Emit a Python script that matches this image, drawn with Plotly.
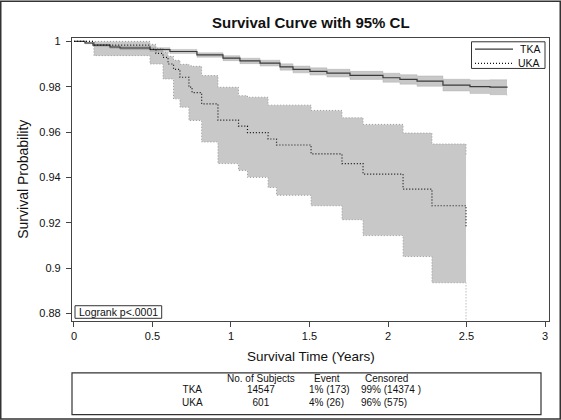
import plotly.graph_objects as go

# ---------------- data ----------------
tka_time = [0, 0.070, 0.121, 0.229, 0.293, 0.484, 0.611, 0.783, 0.949, 1.057, 1.185, 1.312,
            1.395, 1.503, 1.611, 1.758, 1.968, 2.076, 2.185, 2.350, 2.522, 2.650, 2.758]
tka_surv = [1.0, 0.99930, 0.99833, 0.99753, 0.99709, 0.99643, 0.99555, 0.99401, 0.99260, 0.99137,
            0.99040, 0.98872, 0.98762, 0.98674, 0.98599, 0.98498, 0.98396, 0.98322, 0.98247,
            0.98070, 0.98000, 0.97978, 0.97956]
tka_upper = [1.0, 0.99970, 0.99883, 0.99813, 0.99779, 0.99723, 0.99645, 0.99501, 0.99370, 0.99257,
             0.99170, 0.99012, 0.98912, 0.98834, 0.98769, 0.98678, 0.98596, 0.98532, 0.98477,
             0.98330, 0.98300, 0.98308, 0.98316]
tka_lower = [1.0, 0.99890, 0.99783, 0.99693, 0.99639, 0.99563, 0.99465, 0.99301, 0.99150, 0.99017,
             0.98910, 0.98732, 0.98612, 0.98514, 0.98429, 0.98318, 0.98196, 0.98112, 0.98017,
             0.97810, 0.97700, 0.97648, 0.97596]

uka_time = [0, 0.127, 0.484, 0.522, 0.567, 0.599, 0.634, 0.675, 0.732, 0.752, 0.813, 0.917,
            1.048, 1.105, 1.236, 1.290, 1.510, 1.707, 1.841, 2.096, 2.280, 2.497]
uka_surv = [1.0, 0.99833, 0.99648, 0.99473, 0.99297, 0.99002, 0.98769, 0.98418, 0.97978, 0.97736,
            0.97244, 0.96527, 0.96264, 0.95978, 0.95692, 0.95429, 0.95033, 0.94607, 0.94141,
            0.93481, 0.92747, 0.91793]
uka_upper = [1.0, 1.0, 0.99868, 0.99692, 0.99516, 0.99341, 0.99165, 0.98989, 0.98923, 0.98901,
             0.98492, 0.97978, 0.97604, 0.97538, 0.97187, 0.97187, 0.96954, 0.96629, 0.96338,
             0.95956, 0.95473, 0.94950]
uka_lower = [1.0, 0.99371, 0.99002, 0.99002, 0.98343, 0.98343, 0.97464, 0.97099, 0.96514, 0.96514,
             0.95560, 0.94607, 0.94308, 0.94000, 0.93552, 0.93209, 0.92747, 0.92132, 0.91429,
             0.90505, 0.89349, 0.85000]

x_tickvals = [0, 0.5, 1, 1.5, 2, 2.5, 3]
x_ticktext = ["0", "0.5", "1", "1.5", "2", "2.5", "3"]
y_tickvals = [0.88, 0.90, 0.92, 0.94, 0.96, 0.98, 1.0]
y_ticktext = ["0.88", "0.9", "0.92", "0.94", "0.96", "0.98", "1"]

groups = ["TKA", "UKA"]
n_subjects = [14547, 601]
event_text = ["1% (173)", "4% (26)"]
censored_text = ["99% (14374 )", "96% (575)"]
logrank_text = "Logrank p&lt;.0001"

# ---------------- figure ----------------
FONT = "Liberation Sans, Arial, sans-serif"
band_fill = "rgba(110,110,110,0.38)"
W, H = 561, 420
L, R, T, B = 72, 12, 37.5, 99
pw, ph = W - L - R, H - T - B

def px2x(px):
    return (px - L) / pw

def py2y(py):
    return (H - B - py) / ph

fig = go.Figure()

# UKA band
fig.add_trace(go.Scatter(x=uka_time, y=uka_lower, mode="lines", line_shape="hv",
                         line=dict(color="#9a9a9a", width=1, dash="1px,2px"),
                         showlegend=False, hoverinfo="skip"))
fig.add_trace(go.Scatter(x=uka_time, y=uka_upper, mode="lines", line_shape="hv",
                         line=dict(color="#9a9a9a", width=1, dash="1px,2px"),
                         fill="tonexty", fillcolor=band_fill,
                         showlegend=False, hoverinfo="skip"))
# TKA band
fig.add_trace(go.Scatter(x=tka_time, y=tka_lower, mode="lines", line_shape="hv",
                         line=dict(color="rgba(150,150,150,0.6)", width=0.5),
                         showlegend=False, hoverinfo="skip"))
fig.add_trace(go.Scatter(x=tka_time, y=tka_upper, mode="lines", line_shape="hv",
                         line=dict(color="rgba(150,150,150,0.6)", width=0.5),
                         fill="tonexty", fillcolor=band_fill,
                         showlegend=False, hoverinfo="skip"))
# estimates
fig.add_trace(go.Scatter(x=tka_time, y=tka_surv, mode="lines", line_shape="hv",
                         line=dict(color="#3a3a3a", width=1.2), name="TKA", showlegend=False))
fig.add_trace(go.Scatter(x=uka_time, y=uka_surv, mode="lines", line_shape="hv",
                         line=dict(color="#111111", width=1.2, dash="1px,2px"), name="UKA",
                         showlegend=False))

axis_color = "#444444"
fig.update_xaxes(range=[-0.0127, 3.0255],
                 tickvals=x_tickvals, ticktext=x_ticktext,
                 showline=True, mirror=True, linecolor=axis_color, linewidth=1.2,
                 ticks="outside", ticklen=5, tickcolor=axis_color, tickwidth=1,
                 showgrid=False, zeroline=False,
                 tickfont=dict(family=FONT, size=11, color="#111"))
fig.update_yaxes(range=[0.87661, 1.0015],
                 tickvals=y_tickvals, ticktext=y_ticktext,
                 showline=True, mirror=True, linecolor=axis_color, linewidth=1.2,
                 ticks="outside", ticklen=5, tickcolor=axis_color, tickwidth=1,
                 showgrid=False, zeroline=False, ticklabelstandoff=3,
                 tickfont=dict(family=FONT, size=11, color="#111"))

shapes = []
annotations = []

# outer frame
shapes.append(dict(type="rect", xref="paper", yref="paper",
                   x0=px2x(0.75), x1=px2x(560.25), y0=py2y(419.25), y1=py2y(0.75),
                   line=dict(color="#333", width=1.5)))

# legend (manual)
shapes.append(dict(type="rect", xref="paper", yref="paper",
                   x0=px2x(471.5), x1=px2x(545), y0=py2y(68), y1=py2y(41.3),
                   line=dict(color="#333", width=1), fillcolor="white"))
shapes.append(dict(type="line", xref="paper", yref="paper",
                   x0=px2x(475), x1=px2x(513), y0=py2y(48.7), y1=py2y(48.7),
                   line=dict(color="#3a3a3a", width=1.2)))
shapes.append(dict(type="line", xref="paper", yref="paper",
                   x0=px2x(475), x1=px2x(513), y0=py2y(63), y1=py2y(63),
                   line=dict(color="#111", width=1.2, dash="1px,2px")))
for name, py in zip(groups, [48.7, 63]):
    annotations.append(dict(text=name, xref="paper", yref="paper", x=px2x(542), y=py2y(py),
                            xanchor="right", yanchor="middle", showarrow=False,
                            font=dict(family=FONT, size=10.5, color="#111")))

# logrank box
shapes.append(dict(type="rect", xref="paper", yref="paper",
                   x0=px2x(75), x1=px2x(161.7), y0=py2y(318.3), y1=py2y(305.7),
                   line=dict(color="#333", width=1), fillcolor="white"))
annotations.append(dict(text=logrank_text, xref="paper", yref="paper",
                        x=px2x(118.3), y=py2y(312), xanchor="center", yanchor="middle",
                        showarrow=False, font=dict(family=FONT, size=10.5, color="#111")))

# title & axis titles
annotations.append(dict(text="<b>Survival Curve with 95% CL</b>", xref="paper", yref="paper",
                        x=px2x(310.5), y=py2y(21.5), xanchor="center", yanchor="middle",
                        showarrow=False, font=dict(family=FONT, size=15, color="#111")))
annotations.append(dict(text="Survival Probability", xref="paper", yref="paper",
                        x=px2x(23.5), y=py2y(179), xanchor="center", yanchor="middle",
                        textangle=-90, showarrow=False,
                        font=dict(family=FONT, size=14, color="#111")))
annotations.append(dict(text="Survival Time (Years)", xref="paper", yref="paper",
                        x=px2x(310.5), y=py2y(357), xanchor="center", yanchor="middle",
                        showarrow=False, font=dict(family=FONT, size=13.5, color="#111")))

# summary table (one text block per column)
shapes.append(dict(type="rect", xref="paper", yref="paper",
                   x0=px2x(72), x1=px2x(541), y0=py2y(414.8), y1=py2y(373),
                   line=dict(color="#333", width=1.2)))
tfont = dict(family=FONT, size=10, color="#111")
header_py = 378.5
rows_mid_py = 396.0

def block(text, px, py, xanchor="center", align="center"):
    annotations.append(dict(text=text, xref="paper", yref="paper", x=px2x(px), y=py2y(py),
                            xanchor=xanchor, yanchor="middle", align=align,
                            showarrow=False, font=tfont, borderpad=0))

block("No. of Subjects", 260.5, header_py)
block("Event", 327.4, header_py)
block("Censored", 386.4, header_py)
block("<br>".join(groups), 192, rows_mid_py)
block("<br>".join(str(n) for n in n_subjects), 260.5, rows_mid_py)
block("<br>".join(event_text), 307.5, rows_mid_py, xanchor="left", align="left")
block("<br>".join(censored_text), 359.6, rows_mid_py, xanchor="left", align="left")

fig.update_layout(width=W, height=H, margin=dict(l=L, r=R, t=T, b=B, pad=0),
                  paper_bgcolor="white", plot_bgcolor="white",
                  shapes=shapes, annotations=annotations, showlegend=False,
                  font=dict(family=FONT, color="#111"))

fig.write_html("out.html", config={"displayModeBar": False},
               post_script="document.body.style.margin='0';document.body.style.padding='0';"
                           "document.body.style.overflow='hidden';")
